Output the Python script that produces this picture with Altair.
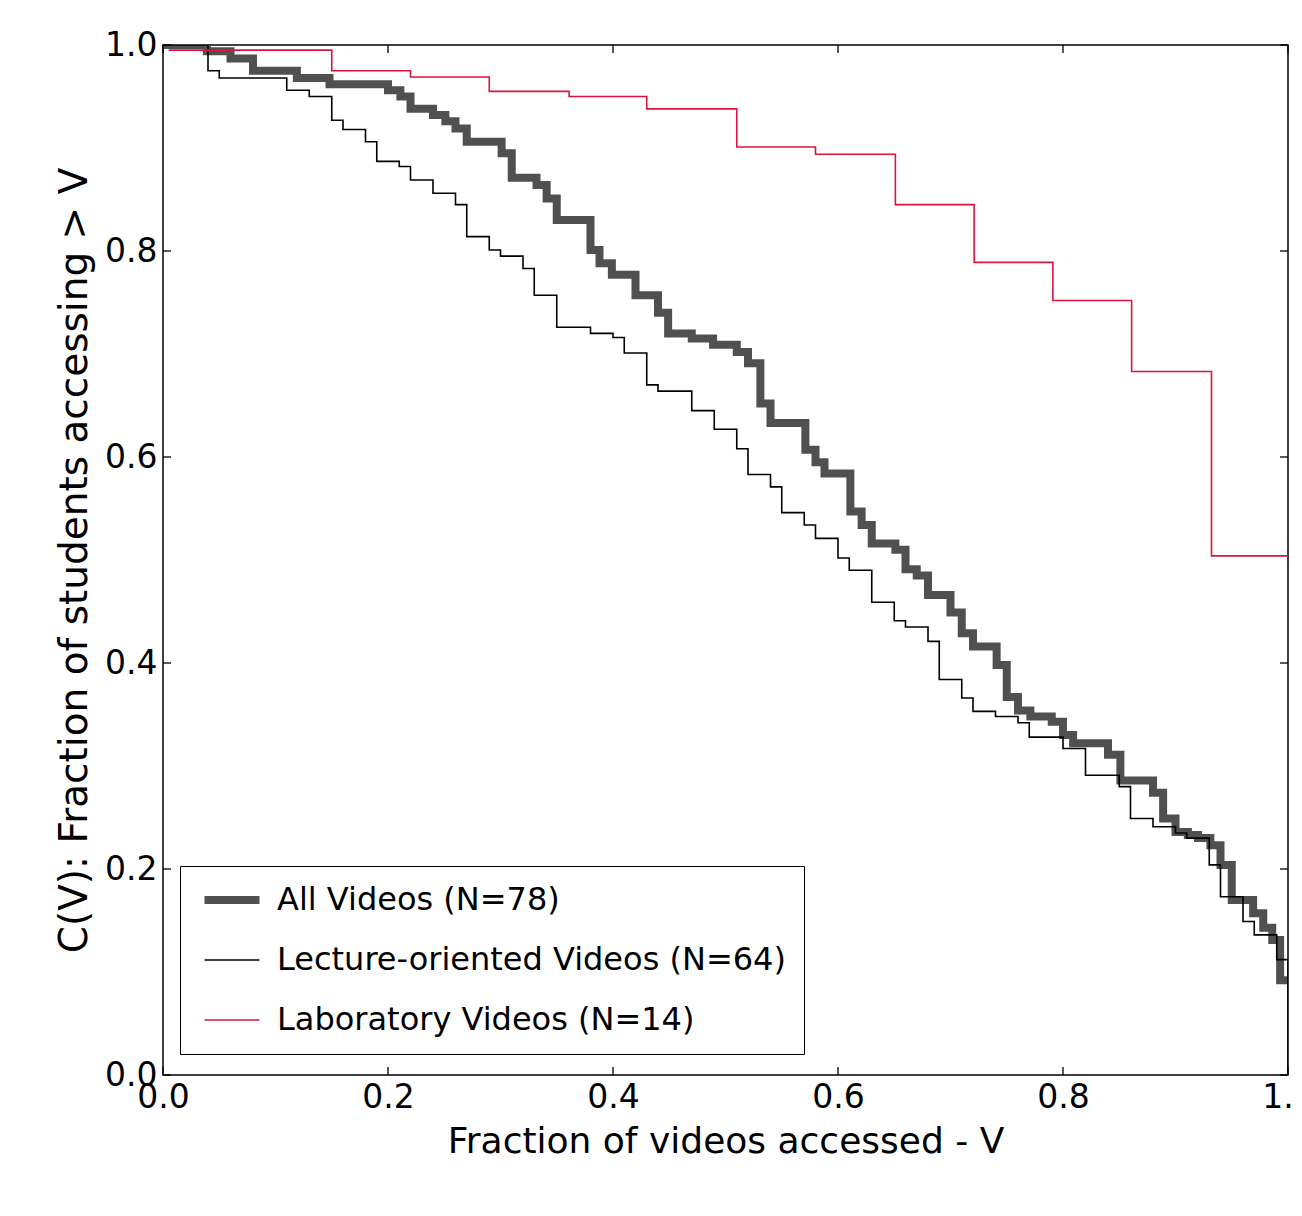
import altair as alt
import pandas as pd

# ---- data ----
series_names = ["All Videos (N=78)", "Lecture-oriented Videos (N=64)", "Laboratory Videos (N=14)"]

all_x = [0.0, 0.039, 0.060, 0.080, 0.119, 0.148, 0.200, 0.211, 0.220, 0.240, 0.251, 0.260, 0.270, 0.301,
         0.310, 0.332, 0.341, 0.350, 0.380, 0.388, 0.399, 0.420, 0.440, 0.449, 0.470, 0.489, 0.510, 0.520,
         0.531, 0.540, 0.571, 0.580, 0.588, 0.611, 0.621, 0.630, 0.651, 0.660, 0.670, 0.680, 0.700, 0.710,
         0.720, 0.741, 0.750, 0.760, 0.771, 0.790, 0.800, 0.809, 0.840, 0.851, 0.880, 0.889, 0.900, 0.911,
         0.920, 0.931, 0.940, 0.950, 0.969, 0.978, 0.986, 0.993, 1.000]
all_y = [1.0, 0.994, 0.987, 0.975, 0.968, 0.962, 0.956, 0.950, 0.938, 0.932, 0.926, 0.919, 0.906, 0.895,
         0.871, 0.864, 0.851, 0.830, 0.801, 0.788, 0.777, 0.757, 0.740, 0.720, 0.715, 0.709, 0.702, 0.691,
         0.652, 0.633, 0.607, 0.595, 0.584, 0.547, 0.534, 0.516, 0.510, 0.491, 0.485, 0.466, 0.449, 0.429,
         0.416, 0.398, 0.367, 0.354, 0.348, 0.343, 0.330, 0.322, 0.311, 0.286, 0.274, 0.249, 0.236, 0.233,
         0.230, 0.223, 0.204, 0.170, 0.157, 0.143, 0.131, 0.092, 0.092]

lec_x = [0.0, 0.040, 0.050, 0.110, 0.130, 0.150, 0.160, 0.180, 0.190, 0.210, 0.220, 0.240, 0.260, 0.270,
         0.290, 0.300, 0.320, 0.330, 0.350, 0.380, 0.400, 0.410, 0.430, 0.440, 0.470, 0.490, 0.510, 0.520,
         0.540, 0.550, 0.570, 0.580, 0.600, 0.610, 0.630, 0.650, 0.660, 0.680, 0.690, 0.710, 0.720, 0.740,
         0.760, 0.770, 0.800, 0.820, 0.850, 0.860, 0.880, 0.900, 0.910, 0.930, 0.940, 0.960, 0.970, 0.990,
         1.000]
lec_y = [1.0, 0.975, 0.968, 0.956, 0.950, 0.927, 0.918, 0.906, 0.887, 0.882, 0.869, 0.856, 0.845, 0.814,
         0.801, 0.795, 0.783, 0.757, 0.726, 0.720, 0.716, 0.701, 0.670, 0.664, 0.645, 0.627, 0.608, 0.583,
         0.571, 0.546, 0.534, 0.521, 0.502, 0.490, 0.459, 0.441, 0.435, 0.421, 0.384, 0.366, 0.353, 0.348,
         0.342, 0.328, 0.317, 0.291, 0.280, 0.249, 0.241, 0.235, 0.230, 0.204, 0.173, 0.149, 0.136, 0.112,
         0.0]

lab_x = [0.005, 0.150, 0.220, 0.290, 0.361, 0.430, 0.510, 0.580, 0.651, 0.721, 0.791, 0.861, 0.932, 1.000]
lab_y = [0.995, 0.975, 0.969, 0.955, 0.950, 0.938, 0.901, 0.894, 0.845, 0.789, 0.752, 0.683, 0.504, 0.504]

tick_values = [0.0, 0.2, 0.4, 0.6, 0.8, 1.0]

# ---- build table ----
rows = []
for name, xs, ys in zip(series_names, [all_x, lec_x, lab_x], [all_y, lec_y, lab_y]):
    for i, (a, b) in enumerate(zip(xs, ys)):
        rows.append({"series": name, "x": a, "y": b, "i": i})
df = pd.DataFrame(rows)
ticks_x = pd.DataFrame({"x": tick_values})
ticks_y = pd.DataFrame({"y": tick_values})

W, H = 1125, 1030
FONT = "DejaVu Sans"
TL = 8
THICK, THIN = 8, 1.6

xscale = alt.Scale(domain=[0, 1], nice=False, zero=False)
yscale = alt.Scale(domain=[0, 1], nice=False, zero=False)

xaxis = alt.Axis(values=tick_values, format=".1f", ticks=False, domain=False, grid=False,
                 labelFontSize=33, labelFont=FONT, labelColor="black", labelPadding=6,
                 titleFontSize=36, titleFont=FONT, titleColor="black", titleFontWeight="normal",
                 titlePadding=10, labelFlush=False)
yaxis = alt.Axis(values=tick_values, format=".1f", ticks=False, domain=False, grid=False,
                 labelFontSize=33, labelFont=FONT, labelColor="black", labelPadding=6,
                 titleFontSize=39, titleFont=FONT, titleColor="black", titleFontWeight="normal",
                 titlePadding=10, labelFlush=False)

xtitle = "Fraction of videos accessed - V"
ytitle = "C(V): Fraction of students accessing > V"

legend = alt.Legend(orient="none", legendX=17, legendY=821, title=None,
                    symbolType="stroke", symbolSize=3025, symbolOffset=18,
                    symbolStrokeWidth={"expr": "datum.index === 0 ? %g : %g" % (THICK, THIN)},
                    labelFontSize=32, labelFont=FONT, labelColor="black",
                    labelOffset=29, padding=18, rowPadding=28,
                    strokeColor="black", fillColor="white", labelLimit=800)

lines = alt.Chart(df).mark_line(interpolate="step-after", clip=True).encode(
    x=alt.X("x:Q", scale=xscale, axis=xaxis, title=xtitle),
    y=alt.Y("y:Q", scale=yscale, axis=yaxis, title=ytitle),
    color=alt.Color("series:N",
                    scale=alt.Scale(domain=series_names, range=["#505050", "#000000", "#dc143c"]),
                    legend=legend),
    strokeWidth=alt.condition(alt.datum.series == series_names[0], alt.value(THICK), alt.value(THIN)),
    order="i:Q",
    detail="series:N",
)

bottom_ticks = alt.Chart(ticks_x).mark_rule(color="black", strokeWidth=1.3).encode(
    x=alt.X("x:Q", scale=xscale, axis=xaxis, title=xtitle), y=alt.value(H), y2=alt.value(H - TL))
top_ticks = alt.Chart(ticks_x).mark_rule(color="black", strokeWidth=1.3).encode(
    x=alt.X("x:Q", scale=xscale, axis=xaxis, title=xtitle), y=alt.value(0), y2=alt.value(TL))
left_ticks = alt.Chart(ticks_y).mark_rule(color="black", strokeWidth=1.3).encode(
    y=alt.Y("y:Q", scale=yscale, axis=yaxis, title=ytitle), x=alt.value(0), x2=alt.value(TL))
right_ticks = alt.Chart(ticks_y).mark_rule(color="black", strokeWidth=1.3).encode(
    y=alt.Y("y:Q", scale=yscale, axis=yaxis, title=ytitle), x=alt.value(W), x2=alt.value(W - TL))

chart = alt.layer(lines, bottom_ticks, top_ticks, left_ticks, right_ticks).properties(
    width=W, height=H,
    autosize=alt.AutoSizeParams(type="none"),
    padding={"left": 155, "top": 37, "right": 6, "bottom": 130},
    background="white",
).configure_view(stroke="black", strokeWidth=1.5)

chart.save("out.html", embed_options={"renderer": "svg", "actions": False})
